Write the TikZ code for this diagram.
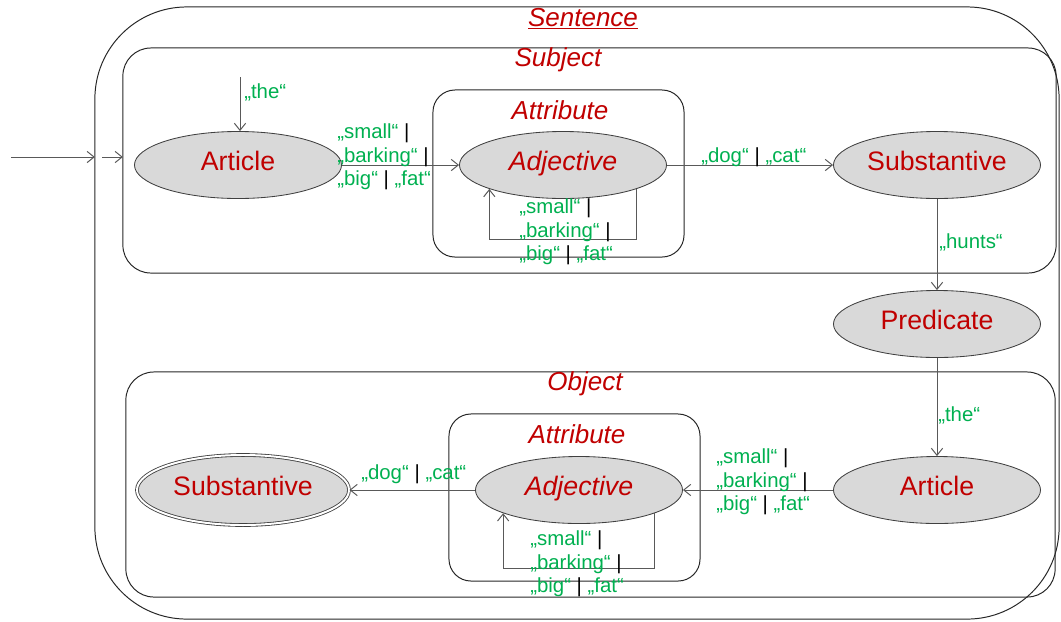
\documentclass[tikz,border=0pt]{standalone}
\usepackage{fontspec}
\setmainfont{Liberation Sans}
\usetikzlibrary{shapes.geometric,arrows.meta}
\newcommand{\orbar}{{\color{black}|}}
\begin{document}
\begin{tikzpicture}[x=0.025cm,y=-0.025cm,
    state/.style={ellipse,draw=r64g64b64,fill=r217g217b217,line width=0.6pt,
      minimum width=5.175cm,minimum height=1.675cm,inner sep=0pt,
      text height=0.5cm,text depth=0.25cm,
      font=\fontsize{19}{22}\selectfont,text=r192g0b0},
    box/.style={draw=r38g38b38,line width=0.7pt,rectangle,inner sep=0pt,outer sep=0pt},
    title/.style={font=\fontsize{18.5}{22}\selectfont\itshape,text=r192g0b0,inner sep=1pt},
    word/.style={font=\fontsize{14.5}{16.7}\selectfont,text=r0g176b80,inner sep=0pt,
      align=left,anchor=west},
    trans/.style={draw=r89g89b89,line width=0.7pt,-{Straight Barb[length=5pt,width=8pt]}}]
                        \useasboundingbox (0,0) rectangle (1061,621);

                        % Changing colors
                        \definecolor{r192g0b0}{RGB}{192,0,0}%
                        \definecolor{r0g176b80}{RGB}{0,176,80}%
                        \definecolor{r217g217b217}{RGB}{217,217,217}%
                        \definecolor{r64g64b64}{RGB}{64,64,64}%
                        \definecolor{r89g89b89}{RGB}{89,89,89}%
                        \definecolor{r38g38b38}{RGB}{38,38,38}%

                        % Drawing boxes Sentence, Subject, Object, Attribute
                        \node [box,rounded corners=2.3cm,minimum width=24.1cm,minimum height=15.3cm] (sentence) at (577,313) {};
                        \node [box,rounded corners=0.7cm,minimum width=23.325cm,minimum height=5.625cm] (subject) at (589.5,160.5) {};
                        \node [box,rounded corners=0.7cm,minimum width=23.225cm,minimum height=5.625cm] (object) at (590.5,484.5) {};
                        \node [box,rounded corners=0.55cm,minimum width=6.275cm,minimum height=4.175cm] (attrS) at (558.5,173.5) {};
                        \node [box,rounded corners=0.55cm,minimum width=6.275cm,minimum height=4.175cm] (attrO) at (574.5,497.5) {};

                        % Marking box titles
                        \node [title] (tSentence) at (583,19) {\underline{Sentence}};
                        \node [title] (tSubject) at (558,60) {Subject};
                        \node [title] (tAttrS) at (560,110) {Attribute};
                        \node [title] (tObject) at (585,384) {Object};
                        \node [title] (tAttrO) at (577,434) {Attribute};

                        % Marking states
                        \node [state] (artS) at (238,165) {Article};
                        \node [state] (adjS) at (563,165) {\itshape Adjective};
                        \node [state] (subS) at (937,165) {Substantive};
                        \node [state] (pred) at (937,324) {Predicate};
                        \node [state] (artO) at (937,490) {Article};
                        \node [state] (adjO) at (579,490) {\itshape Adjective};
                        \node [state,double=white,double distance=1.4pt,minimum width=5.3cm,minimum height=1.75cm] (subO) at (243,490) {Substantive};

                        % Drawing entry lines
                        \coordinate (start) at (11,157);
                        \coordinate (start2) at (102,157);
                        \draw [trans] (start) -- (start -| sentence.west);
                        \draw [trans] (start2) -- (start2 -| subject.west);
                        \coordinate (theTop) at (240,77);
                        \draw [trans] (theTop) -- (theTop |- artS.north);

                        % Drawing transitions of Subject
                        \draw [trans] (artS) -- (adjS);
                        \draw [trans] (adjS.-18) -- ++(0,51) -| (adjS.198);
                        \draw [trans] (adjS) -- (subS);
                        \draw [trans] (subS) -- (pred);

                        % Drawing transitions of Object
                        \draw [trans] (pred) -- (artO);
                        \draw [trans] (artO) -- (adjO);
                        \draw [trans] (adjO.-17) -- ++(0,55) -| (adjO.197);
                        \draw [trans] (adjO) -- (subO);

                        % Marking words
                        \node [word] (wThe1) at (244,92) {„the“};
                        \node [word] (wAdj1) at (337,157) {„small“ \orbar\\„barking“ \orbar\\„big“ \orbar{} „fat“};
                        \node [word] (wAdj2) at (519,232) {„small“ \orbar\\„barking“ \orbar\\„big“ \orbar{} „fat“};
                        \node [word] (wNoun1) at (701,157) {„dog“ \orbar{} „cat“};
                        \node [word] (wHunts) at (939,242) {„hunts“};
                        \node [word] (wThe2) at (938,415) {„the“};
                        \node [word] (wAdj3) at (716,482) {„small“ \orbar\\„barking“ \orbar\\„big“ \orbar{} „fat“};
                        \node [word] (wAdj4) at (530,564) {„small“ \orbar\\„barking“ \orbar\\„big“ \orbar{} „fat“};
                        \node [word] (wNoun2) at (361,474) {„dog“ \orbar{} „cat“};
\end{tikzpicture}
\end{document}
